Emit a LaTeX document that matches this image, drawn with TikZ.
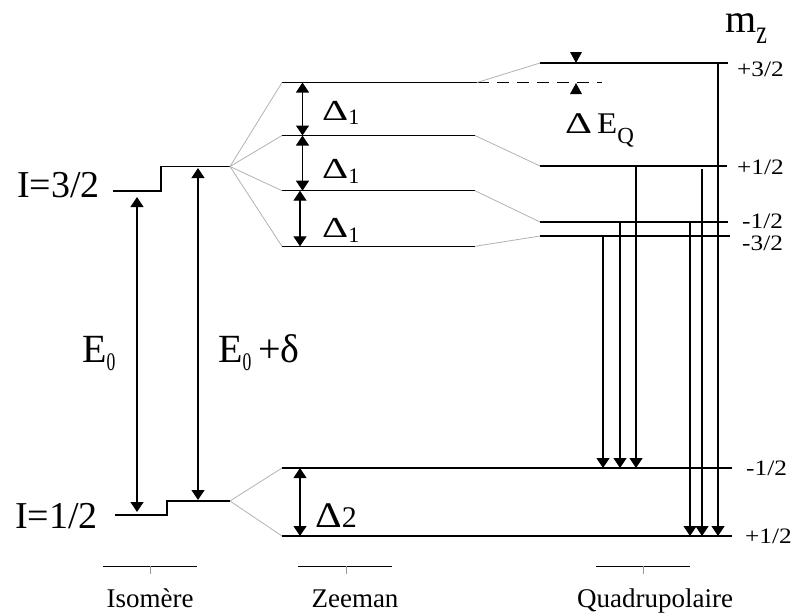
\documentclass[tikz,border=0pt]{standalone}
\usepackage{fontspec}
\setmainfont{Liberation Serif}
\usetikzlibrary{arrows.meta}
\newcommand{\fsz}[1]{\fontsize{#1}{#1}\selectfont}
\begin{document}
\begin{tikzpicture}[x=1pt,y=-1pt,
  lvl/.style={line width=1.3pt},
  fan/.style={line width=0.8pt,black!30},
  tipA/.tip={Triangle[width=13pt,length=10pt]},
  dbl/.style={line width=1.3pt,tipA-tipA},
  trans/.style={line width=1.3pt,-tipA},
  lab/.style={inner sep=0pt,anchor=base west},
  mlab/.style={inner sep=0pt,anchor=base west,font=\fsz{22}},
  grp/.style={inner sep=0pt,anchor=base,font=\fsz{27}},
  brk/.style={line width=0.9pt},
  tick/.style={line width=0.6pt,black!40}]
\useasboundingbox (0,0) rectangle (793,614);
% ---- coordinates: isomer levels
\coordinate (iu1) at (113,191); \coordinate (iu2) at (161,191);
\coordinate (iu3) at (161,166.5); \coordinate (iu4) at (230,166.5);
\coordinate (il1) at (115,515); \coordinate (il2) at (167,515);
\coordinate (il3) at (167,501); \coordinate (il4) at (230,501);
% ---- Zeeman levels
\coordinate (z1a) at (282,82.5);  \coordinate (z1b) at (477,82.5);
\coordinate (z2a) at (282,135.5); \coordinate (z2b) at (475,135.5);
\coordinate (z3a) at (282,190.7); \coordinate (z3b) at (475,190.7);
\coordinate (z4a) at (282,246.3); \coordinate (z4b) at (475,246.3);
\coordinate (zl1a) at (282,468); \coordinate (zl1b) at (732,468);
\coordinate (zl2a) at (282,536); \coordinate (zl2b) at (732,536);
% ---- quadrupole levels
\coordinate (q1a) at (540,63);  \coordinate (q1b) at (728,63);
\coordinate (q2a) at (540,166); \coordinate (q2b) at (727,166);
\coordinate (q3a) at (540,222); \coordinate (q3b) at (728,222);
\coordinate (q4a) at (540,236); \coordinate (q4b) at (730,236);
\coordinate (dqa) at (477,82.5); \coordinate (dqb) at (602,82.5);
% ---- levels
\draw[lvl] (iu1) -- (iu2) -- (iu3) -- (iu4);
\draw[lvl] (il1) -- (il2) -- (il3) -- (il4);
\foreach \n in {z1,z2,z3,z4,zl1,zl2,q1,q2,q3,q4}{\draw[lvl] (\n a) -- (\n b);}
\draw[lvl,dash pattern=on 12pt off 8pt] (dqa) -- (dqb);
% ---- fan lines
\foreach \n in {z1a,z2a,z3a,z4a}{\draw[fan] (iu4) -- (\n);}
\foreach \n in {zl1a,zl2a}{\draw[fan] (il4) -- (\n);}
\draw[fan] (z1b) -- (q1a);
\draw[fan] (z2b) -- (q2a);
\draw[fan] (z3b) -- (q3a);
\draw[fan] (z4b) -- (q4a);
% ---- isomer arrows
\coordinate (e0t) at (137,197); \coordinate (e0b) at (137,512);
\coordinate (e1t) at (198,168); \coordinate (e1b) at (198,500);
\draw[dbl] (e0b) -- (e0t);
\draw[dbl] (e1b) -- (e1t);
% ---- Zeeman double arrows
\coordinate (d1t) at (302.5,82.5);  \coordinate (d1b) at (302.5,135.5);
\coordinate (d2t) at (302.5,135.5); \coordinate (d2b) at (302.5,190.7);
\coordinate (d3t) at (300,190.7);   \coordinate (d3b) at (300,246.3);
\coordinate (d4t) at (300,468);     \coordinate (d4b) at (300,536);
\draw[dbl] (d1t) -- (d1b);
\draw[dbl] (d2t) -- (d2b);
\draw[dbl] (d3t) -- (d3b);
\draw[dbl] (d4t) -- (d4b);
% ---- transitions
\coordinate (t1s) at (603,236);   \coordinate (t1e) at (603,468);
\coordinate (t2s) at (620,222);   \coordinate (t2e) at (620,468);
\coordinate (t3s) at (636,166);   \coordinate (t3e) at (636,468);
\coordinate (t4s) at (690,222);   \coordinate (t4e) at (690,536);
\coordinate (t5s) at (702,169);   \coordinate (t5e) at (702,536);
\coordinate (t6s) at (718,63);    \coordinate (t6e) at (718,536);
\foreach \i in {1,...,6}{\draw[trans] (t\i s) -- (t\i e);}
% ---- Delta E_Q markers
\fill (570,52) -- (582,52) -- (576,63) -- cycle;
\fill (570,94) -- (582,94) -- (576,83) -- cycle;
% ---- texts
\node[lab,font=\fsz{38}] (I32) at (17,197) {I=3/2};
\node[lab,font=\fsz{38}] (I12) at (15,528) {I=1/2};
\node[lab,font=\fsz{40}] (E0) at (82,362) {E\raisebox{-8pt}{\scalebox{0.8}[1.15]{\fsz{22}0}}};
\node[lab,font=\fsz{40}] (E0d) at (218,362) {E\raisebox{-8pt}{\scalebox{0.8}[1.15]{\fsz{22}0}}\,+δ};
\node[lab,font=\fsz{29}] (D1a) at (322,120) {\scalebox{1.4}[1]{Δ}\raisebox{-4pt}{\fsz{22}1}};
\node[lab,font=\fsz{29}] (D1b) at (322,178) {\scalebox{1.4}[1]{Δ}\raisebox{-5pt}{\fsz{22}1}};
\node[lab,font=\fsz{29}] (D1c) at (322,237) {\scalebox{1.4}[1]{Δ}\raisebox{-5pt}{\fsz{22}1}};
\node[lab,font=\fsz{36}] (D2) at (315,527) {\scalebox{1.15}[1]{Δ}\fsz{30}2};
\node[lab,font=\fsz{30}] (DEQ) at (565,133) {\scalebox{1.4}[1]{Δ}\,\scalebox{1.1}[1]{E}\raisebox{-10pt}{\fsz{23}Q}};
\node[lab,font=\fsz{40}] (mz) at (725,32) {m\raisebox{-11pt}{\scalebox{1}[1.4]{\fsz{24}z}}};
\node[mlab] (m1) at (737,76) {\scalebox{1.15}[1]{+3/2}};
\node[mlab] (m2) at (737,174) {\scalebox{1.15}[1]{+1/2}};
\node[mlab] (m3) at (742,228) {\scalebox{1.15}[1]{-1/2}};
\node[mlab] (m4) at (742,250) {\scalebox{1.15}[1]{-3/2}};
\node[mlab] (m5) at (746,475) {\scalebox{1.15}[1]{-1/2}};
\node[mlab] (m6) at (745,543) {\scalebox{1.15}[1]{+1/2}};
% ---- group brackets
\draw[brk] (103,566) -- (197,566);
\draw[tick] (150,566) -- (150,574);
\draw[brk] (298,566) -- (392,566);
\draw[tick] (346,566) -- (346,574);
\draw[brk] (596,566) -- (690,566);
\draw[tick] (643,566) -- (643,574);
\node[grp] (gI) at (150,607) {Isomère};
\node[grp] (gZ) at (355,607) {Zeeman};
\node[grp] (gQ) at (655,607) {Quadrupolaire};
\end{tikzpicture}
\end{document}
